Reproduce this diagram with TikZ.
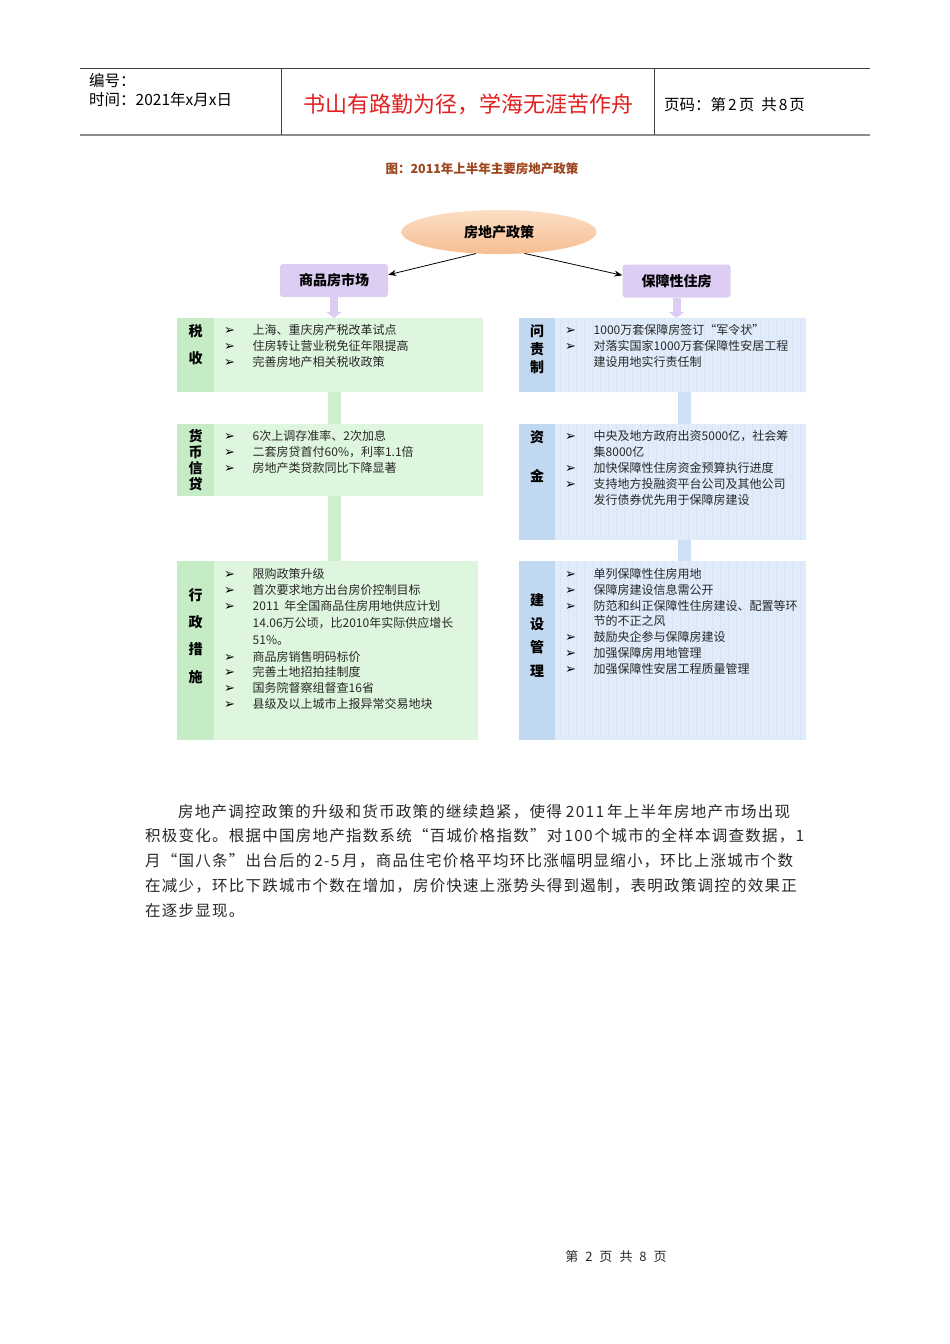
\documentclass[tikz,border=0pt]{standalone}
\usepackage{fontspec}
\setmainfont{Noto Sans CJK SC}
\newfontfamily\dejavu{DejaVu Sans}
\newfontfamily\bodyfont{Noto Sans CJK SC}[LetterSpace=8]
\usetikzlibrary{arrows.meta,shapes.geometric}
\definecolor{gfill}{RGB}{222,246,222}
\definecolor{glab}{RGB}{198,236,198}
\definecolor{gband}{RGB}{206,240,206}
\definecolor{bfill}{RGB}{224,236,250}
\definecolor{blab}{RGB}{192,216,240}
\definecolor{bgrid}{RGB}{215,229,246}
\definecolor{bband}{RGB}{205,224,246}
\definecolor{lav}{RGB}{221,205,242}
\definecolor{peachA}{RGB}{252,222,196}
\definecolor{peachB}{RGB}{246,190,146}
\definecolor{redt}{RGB}{226,32,32}
\definecolor{brownt}{RGB}{158,70,30}
\definecolor{txt}{RGB}{40,40,40}
\newcounter{blc}
\newcommand{\bl}[3]{\stepcounter{blc}%
  \node[bul] (bu\arabic{blc}) at (#1,#2) {➢};
  \node[btxt] (bt\arabic{blc}) at (#1+28.5,#2) {#3};}
\newcommand{\cl}[3]{\stepcounter{blc}%
  \node[btxt] (bt\arabic{blc}) at (#1+28.5,#2) {#3};}
\begin{document}
\begin{tikzpicture}[x=1pt,y=-1pt,
  hdr/.style={anchor=base west, inner sep=0, font=\fontsize{15.5}{18}\selectfont, text=black},
  gpanel/.style={fill=gfill, inner sep=0, anchor=north west},
  glabcol/.style={fill=glab, inner sep=0, anchor=north west, minimum width=37},
  bpanel/.style={fill=bfill, inner sep=0, anchor=north west},
  blabcol/.style={fill=blab, inner sep=0, anchor=north west, minimum width=36},
  labtxt/.style={inner sep=0, align=center, text=black},
  bul/.style={anchor=base west, inner sep=0, font=\dejavu\fontsize{13}{14}\selectfont, text=black},
  btxt/.style={anchor=base west, inner sep=0, font=\fontsize{12}{14}\selectfont, text=txt},
  catbox/.style={fill=lav, rounded corners=3pt, minimum width=108, minimum height=33, inner sep=0, font=\bfseries\fontsize{14}{16}\selectfont},
  para/.style={anchor=base west, inner sep=0, font=\bodyfont\fontsize{15.5}{20}\selectfont, text=txt},
  tip/.style={-{Stealth[length=8pt,width=6pt]}, line width=0.8pt}
]
\fill[white] (0,0) rectangle (950,1344);
\useasboundingbox (0,0) rectangle (950,1344);

% header
\coordinate (hl1) at (80,68); \coordinate (hr1) at (870,68);
\coordinate (hl2) at (80,135); \coordinate (hr2) at (870,135);
\coordinate (v1t) at (281,68); \coordinate (v1b) at (281,135);
\coordinate (v2t) at (654,68); \coordinate (v2b) at (654,135);
\draw[line width=1pt, black!75] (hl1) -- (hr1);
\draw[line width=2pt, black!45] (hl2) -- (hr2);
\draw[line width=0.8pt, black!75] (v1t) -- (v1b);
\draw[line width=0.8pt, black!75] (v2t) -- (v2b);
\node[hdr] (bh) at (89,86) {编号：};
\node[hdr] (sj) at (89,105) {时间：2021年x月x日};
\node[anchor=base, inner sep=0, font=\fontsize{22}{24}\selectfont, text=redt] (motto) at (468,112) {书山有路勤为径，学海无涯苦作舟};
\node[hdr, font=\fontsize{15.5}{18}\selectfont] (ym) at (664,110) {页码：第\hspace{2pt}2\hspace{2pt}页\ \ 共\hspace{2pt}8\hspace{2pt}页};

% title
\node[anchor=base, inner sep=0, font=\bfseries\fontsize{12.5}{14}\selectfont, text=brownt] (title) at (482,173) {图：2011年上半年主要房地产政策};

% root ellipse
\node[ellipse, minimum width=195, minimum height=44, inner sep=0, top color=peachA, bottom color=peachB, font=\bfseries\fontsize{14}{16}\selectfont] (root) at (499,232) {房地产政策};

% category boxes
\node[catbox] (lb) at (334,280.5) {商品房市场};
\node[catbox] (rb) at (676.5,281) {保障性住房};
\draw[tip] (root.-137) -- (lb.6);
\draw[tip] (root.-40) -- (rb.174);

% left panels
\node[gpanel, minimum width=306, minimum height=74] (lp1) at (177,318) {};
\node[gpanel, minimum width=306, minimum height=72] (lp2) at (177,424) {};
\node[gpanel, minimum width=301, minimum height=179] (lp3) at (177,561) {};
\node[glabcol, minimum height=74] (lc1) at (177,318) {};
\node[glabcol, minimum height=72] (lc2) at (177,424) {};
\node[glabcol, minimum height=179] (lc3) at (177,561) {};

% right panels
\node[bpanel, minimum width=287, minimum height=74] (rp1) at (519,318) {};
\node[bpanel, minimum width=287, minimum height=116] (rp2) at (519,424) {};
\node[bpanel, minimum width=287, minimum height=179] (rp3) at (519,561) {};
\draw[bgrid, line width=0.25pt, step=8] (555,318) grid (806,392);
\draw[bgrid, line width=0.25pt, step=8] (555,424) grid (806,540);
\draw[bgrid, line width=0.25pt, step=8] (555,561) grid (806,740);
\node[blabcol, minimum height=74] (rc1) at (519,318) {};
\node[blabcol, minimum height=116] (rc2) at (519,424) {};
\node[blabcol, minimum height=179] (rc3) at (519,561) {};

% stems and bands
\coordinate (rbx) at (684,0);
\draw[line width=8pt, lav, -{Triangle[width=15pt,length=6pt]}] (lb.south) -- (lb.south |- lp1.north);
\draw[line width=8pt, lav, -{Triangle[width=15pt,length=6pt]}] (rb.south) -- (rb.south |- rp1.north);
\draw[line width=13pt, gband] (lb.south |- lp1.south) -- (lb.south |- lp2.north);
\draw[line width=13pt, gband] (lb.south |- lp2.south) -- (lb.south |- lp3.north);
\draw[line width=13pt, bband] (rbx |- rp1.south) -- (rbx |- rp2.north);
\draw[line width=13pt, bband] (rbx |- rp2.south) -- (rbx |- rp3.north);

% labels
\node[labtxt, font=\bfseries\fontsize{14}{27}\selectfont] (l1) at (195.5,345) {税\\收};
\node[labtxt, font=\bfseries\fontsize{14}{16}\selectfont] (l2) at (195.5,460) {货\\币\\信\\贷};
\node[labtxt, font=\bfseries\fontsize{14}{27.3}\selectfont] (l3) at (195.5,636) {行\\政\\措\\施};
\node[labtxt, font=\bfseries\fontsize{14}{18}\selectfont] (r1) at (537,349) {问\\责\\制};
\node[labtxt, font=\bfseries\fontsize{14}{39}\selectfont] (r2) at (537,456.5) {资\\金};
\node[labtxt, font=\bfseries\fontsize{14}{23.7}\selectfont] (r3) at (537,635.5) {建\\设\\管\\理};

% left bullets
\bl{224}{334.5}{上海、重庆房产税改革试点}
\bl{224}{350.5}{住房转让营业税免征年限提高}
\bl{224}{366.5}{完善房地产相关税收政策}
\bl{224}{440.5}{6次上调存准率、2次加息}
\bl{224}{456.5}{二套房贷首付60\%，利率1.1倍}
\bl{224}{472.5}{房地产类贷款同比下降显著}
\bl{224}{578.5}{限购政策升级}
\bl{224}{594.5}{首次要求地方出台房价控制目标}
\bl{224}{610.5}{2011\hspace{5pt}年全国商品住房用地供应计划}
\cl{224}{627.5}{14.06万公顷，比2010年实际供应增长}
\cl{224}{644.5}{51\%。}
\bl{224}{661.5}{商品房销售明码标价}
\bl{224}{676.5}{完善土地招拍挂制度}
\bl{224}{692.5}{国务院督察组督查16省}
\bl{224}{708.5}{县级及以上城市上报异常交易地块}

% right bullets
\bl{565}{334.5}{1000万套保障房签订“军令状”}
\bl{565}{350.5}{对落实国家1000万套保障性安居工程}
\cl{565}{366.5}{建设用地实行责任制}
\bl{565}{440.5}{中央及地方政府出资5000亿，社会筹}
\cl{565}{456.5}{集8000亿}
\bl{565}{472.5}{加快保障性住房资金预算执行进度}
\bl{565}{488.5}{支持地方投融资平台公司及其他公司}
\cl{565}{504.5}{发行债券优先用于保障房建设}
\bl{565}{578.5}{单列保障性住房用地}
\bl{565}{594.5}{保障房建设信息需公开}
\bl{565}{610.5}{防范和纠正保障性住房建设、配置等环}
\cl{565}{625.5}{节的不正之风}
\bl{565}{641.5}{鼓励央企参与保障房建设}
\bl{565}{657.5}{加强保障房用地管理}
\bl{565}{673.5}{加强保障性安居工程质量管理}

% paragraph
\node[para] (p1) at (178,817) {房地产调控政策的升级和货币政策的继续趋紧，使得\hspace{4pt}2011\hspace{3pt}年上半年房地产市场出现};
\node[para] (p2) at (145,841) {积极变化。根据中国房地产指数系统“百城价格指数”对\hspace{2pt}100\hspace{2pt}个城市的全样本调查数据，1};
\node[para] (p3) at (145,866) {月“国八条”出台后的\hspace{3pt}2-5\hspace{3pt}月，商品住宅价格平均环比涨幅明显缩小，环比上涨城市个数};
\node[para] (p4) at (145,891) {在减少，环比下跌城市个数在增加，房价快速上涨势头得到遏制，表明政策调控的效果正};
\node[para] (p5) at (145,916) {在逐步显现。};

% footer
\node[anchor=base, inner sep=0, font=\fontsize{13}{15}\selectfont, text=txt] (foot) at (616,1261) {第\hspace{7pt}2\hspace{7pt}页\hspace{7pt}共\hspace{7pt}8\hspace{7pt}页};
\end{tikzpicture}
\end{document}
